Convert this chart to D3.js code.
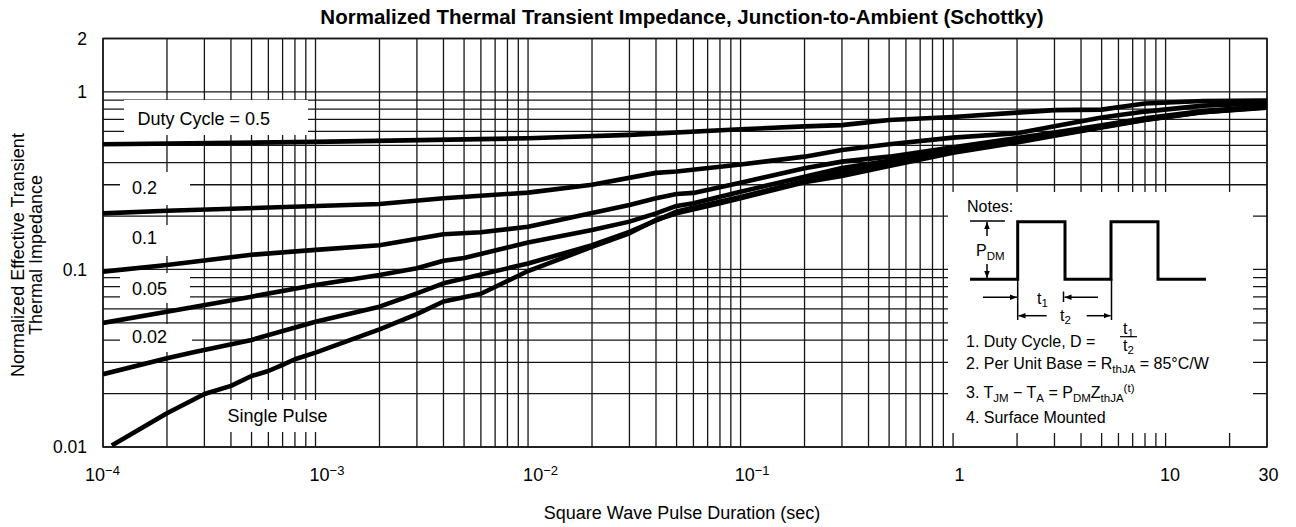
<!DOCTYPE html>
<html><head><meta charset="utf-8">
<script src="https://cdn.jsdelivr.net/npm/d3@7"></script>
<style>
html,body{margin:0;padding:0;background:#fff;}
svg{display:block;font-family:"Liberation Sans",Arial,Helvetica,sans-serif;}
</style></head><body>
<svg id="chart" width="1296" height="527"></svg>
<script>
// ---------------- DATA ----------------
const xTickValues = [1e-4, 1e-3, 1e-2, 1e-1, 1, 10, 30];
const xTickLabels = ["10^−4", "10^−3", "10^−2", "10^−1", "1", "10", "30"];
const yTickValues = [0.01, 0.1, 1, 2];
const yTickLabels = ["0.01", "0.1", "1", "2"];
const curveLabels = ["Duty Cycle = 0.5", "0.2", "0.1", "0.05", "0.02", "Single Pulse"];

// pulse duration (s) and normalized Zth for each duty cycle
const tD05 = [1e-4, 1e-3, 1e-2, 3e-2, 0.1, 0.2, 0.3, 0.5, 1, 2, 3, 5, 8, 15, 30];
const zD05 = [0.507, 0.523, 0.548, 0.573, 0.616, 0.64, 0.65, 0.695, 0.723, 0.765, 0.79, 0.795, 0.86, 0.89, 0.895];

const tD02 = [1e-4, 2e-4, 2e-3, 4e-3, 1e-2, 2e-2, 4e-2, 5e-2, 0.1, 0.2, 0.3, 0.5, 1, 2, 3, 5, 8, 15, 30];
const zD02 = [0.207, 0.214, 0.234, 0.252, 0.271, 0.3, 0.35, 0.356, 0.39, 0.432, 0.471, 0.508, 0.553, 0.585, 0.64, 0.717, 0.775, 0.837, 0.864];

const tD01 = [1e-4, 2e-4, 5e-4, 1e-3, 2e-3, 4e-3, 6e-3, 1e-2, 2e-2, 3e-2, 4e-2, 5e-2, 6e-2, 0.1, 0.2, 0.3, 0.5, 1, 2, 3, 5, 8, 15, 30];
const zD01 = [0.0972, 0.106, 0.121, 0.129, 0.137, 0.158, 0.162, 0.174, 0.208, 0.231, 0.252, 0.266, 0.27, 0.308, 0.372, 0.405, 0.432, 0.488, 0.55, 0.59, 0.65, 0.71, 0.78, 0.83];

const tD005 = [1e-4, 2e-4, 5e-4, 1e-3, 2e-3, 3e-3, 4e-3, 5e-3, 1e-2, 2e-2, 3e-2, 4e-2, 5e-2, 6e-2, 0.1, 0.2, 0.3, 0.5, 1, 2, 3, 5, 8, 15, 30];
const zD005 = [0.05, 0.0578, 0.0703, 0.0818, 0.093, 0.1016, 0.112, 0.116, 0.142, 0.167, 0.186, 0.207, 0.228, 0.236, 0.274, 0.333, 0.373, 0.409, 0.47, 0.535, 0.575, 0.64, 0.70, 0.775, 0.825];

const tD002 = [1e-4, 2e-4, 2.6e-4, 5e-4, 1e-3, 2e-3, 3e-3, 4e-3, 1e-2, 2e-2, 3e-2, 5e-2, 0.1, 0.2, 0.3, 0.5, 1, 2, 3, 5, 8, 15, 30];
const zD002 = [0.0257, 0.0316, 0.034, 0.0401, 0.0508, 0.0617, 0.0734, 0.0836, 0.108, 0.137, 0.163, 0.212, 0.256, 0.315, 0.354, 0.395, 0.463, 0.527, 0.57, 0.635, 0.697, 0.77, 0.82];

const tSingle = [1.1e-4, 2e-4, 3e-4, 4e-4, 5e-4, 6e-4, 7e-4, 8e-4, 1e-3, 2e-3, 3e-3, 4e-3, 6e-3, 1e-2, 2e-2, 3e-2, 4e-2, 5e-2, 8e-2, 0.1, 0.2, 0.3, 0.5, 1, 2, 3, 5, 8, 15, 30];
const zSingle = [0.0102, 0.0155, 0.0199, 0.0221, 0.0251, 0.0268, 0.029, 0.0312, 0.034, 0.046, 0.056, 0.066, 0.073, 0.098, 0.134, 0.16, 0.19, 0.207, 0.236, 0.252, 0.31, 0.336, 0.383, 0.455, 0.52, 0.567, 0.63, 0.695, 0.768, 0.816];

const seriesT = [tD05, tD02, tD01, tD005, tD002, tSingle];
const seriesZ = [zD05, zD02, zD01, zD005, zD002, zSingle];

// ---------------- LAYOUT ----------------
const svg = d3.select("#chart");
const M = {left: 103, right: 1267, top: 38.5, bottom: 447};
const x = d3.scaleLog().domain([1e-4, 30]).range([M.left, M.right]);
const y = d3.scaleLog().domain([0.01, 2]).range([M.bottom, M.top]);
const GRID = "#151515";

svg.append("rect").attr("width", 1296).attr("height", 527).attr("fill", "#fff");

const defs = svg.append("defs");
defs.append("clipPath").attr("id", "plotclip").append("rect")
  .attr("x", M.left).attr("y", M.top).attr("width", M.right - M.left).attr("height", M.bottom - M.top);
defs.append("marker").attr("id", "ah").attr("viewBox", "0 0 10 10")
  .attr("refX", 10).attr("refY", 5).attr("markerWidth", 7).attr("markerHeight", 7)
  .attr("markerUnits", "userSpaceOnUse").attr("orient", "auto")
  .append("path").attr("d", "M0,1 L10,5 L0,9 Z").attr("fill", "#000");

// Grid
const grid = svg.append("g");
grid.selectAll("line.v").data(x.ticks()).join("line")
  .attr("x1", d => x(d)).attr("x2", d => x(d)).attr("y1", M.top).attr("y2", M.bottom)
  .attr("stroke", GRID).attr("stroke-width", 1.3);
grid.selectAll("line.h").data(y.ticks()).join("line")
  .attr("x1", M.left).attr("x2", M.right).attr("y1", d => y(d)).attr("y2", d => y(d))
  .attr("stroke", GRID).attr("stroke-width", 1.3);
grid.append("rect").attr("x", M.left).attr("y", M.top)
  .attr("width", M.right - M.left).attr("height", M.bottom - M.top)
  .attr("fill", "none").attr("stroke", GRID).attr("stroke-width", 1.5);

// label boxes (white masks) + label text positions (px)
const labelBoxes = [
  {x0: 124, x1: 308, y0: 100, y1: 135, tx: 137.5, ty: 125},
  {x0: 120, x1: 190, y0: 172, y1: 205, tx: 132, ty: 193.5},
  {x0: 120, x1: 190, y0: 225, y1: 256, tx: 132, ty: 244},
  {x0: 120, x1: 190, y0: 273, y1: 303, tx: 132, ty: 295},
  {x0: 120, x1: 192, y0: 324, y1: 352, tx: 132, ty: 342.5},
  {x0: 212, x1: 334, y0: 400, y1: 432, tx: 227.5, ty: 421.5}
];
svg.append("g").selectAll("rect").data(labelBoxes).join("rect")
  .attr("x", d => d.x0).attr("y", d => d.y0).attr("width", d => d.x1 - d.x0).attr("height", d => d.y1 - d.y0)
  .attr("fill", "#fff");

// Notes box mask
const NB = {x: 948, y: 192, w: 305, h: 241};
svg.append("rect").attr("x", NB.x).attr("y", NB.y).attr("width", NB.w).attr("height", NB.h).attr("fill", "#fff");

// Curves
const line = d3.line().x(d => x(d[0])).y(d => y(d[1]));
const curves = svg.append("g").attr("clip-path", "url(#plotclip)");
seriesT.forEach((ts, i) => {
  const pts = ts.map((t, k) => [t, seriesZ[i][k]]);
  curves.append("path").datum(pts).attr("d", line)
    .attr("fill", "none").attr("stroke", "#000").attr("stroke-width", 4.6)
    .attr("stroke-linejoin", "round").attr("stroke-linecap", "butt");
});

// Curve labels
svg.append("g").selectAll("text").data(labelBoxes).join("text")
  .attr("x", d => d.tx).attr("y", d => d.ty)
  .attr("font-size", 18).attr("fill", "#000")
  .text((d, i) => curveLabels[i]);

// Y axis
const yAx = svg.append("g").attr("transform", `translate(${M.left},0)`)
  .call(d3.axisLeft(y).tickValues(yTickValues).tickFormat((d, i) => yTickLabels[i]).tickSize(0).tickPadding(16));
yAx.select(".domain").remove();
yAx.selectAll("text").attr("font-size", 17.5).attr("font-family", "Liberation Sans, Arial, sans-serif").attr("fill", "#000");

// X axis
const xLabelDx = [-1, 11, 12, 11, 6, 4, 1];
const xAx = svg.append("g").attr("transform", `translate(0,${M.bottom})`)
  .call(d3.axisBottom(x).tickValues(xTickValues).tickFormat((d, i) => xTickLabels[i]).tickSize(0).tickPadding(21));
xAx.select(".domain").remove();
xAx.selectAll(".tick text").each(function (d, i) {
  const el = d3.select(this);
  const lab = xTickLabels[i];
  el.text(null).attr("font-size", 18).attr("font-family", "Liberation Sans, Arial, sans-serif")
    .attr("fill", "#000").attr("dx", xLabelDx[i]);
  if (lab.includes("^")) {
    const [b, e] = lab.split("^");
    el.append("tspan").text(b);
    el.append("tspan").attr("dy", "-0.45em").attr("font-size", 13).text(e);
  } else el.text(lab);
});

// Title & axis titles
svg.append("text").attr("x", 682).attr("y", 24).attr("text-anchor", "middle")
  .attr("font-size", 20.5).attr("font-weight", "bold")
  .text("Normalized Thermal Transient Impedance, Junction-to-Ambient (Schottky)");
svg.append("text").attr("x", 682).attr("y", 519).attr("text-anchor", "middle")
  .attr("font-size", 18).text("Square Wave Pulse Duration (sec)");
const yl = svg.append("text").attr("transform", "translate(24,255) rotate(-90)").attr("text-anchor", "middle").attr("font-size", 18);
yl.append("tspan").attr("x", 0).attr("y", 0).text("Normalized Effective Transient");
yl.append("tspan").attr("x", 0).attr("y", 17.5).text("Thermal Impedance");

// ---------------- NOTES ----------------
const N = svg.append("g").attr("transform", `translate(${NB.x - 1},${NB.y})`);
const NF = 16, SF = 11.5;
N.append("text").attr("x", 20).attr("y", 19.5).attr("font-size", NF).text("Notes:");
// waveform
N.append("path").attr("d", "M23,87.3 H70.7 V29.7 H118 V87.3 H164 V29.7 H211 V87.3 H259")
  .attr("fill", "none").attr("stroke", "#000").attr("stroke-width", 3).attr("stroke-linejoin", "miter");
// P_DM indicator
N.append("line").attr("x1", 23).attr("x2", 58).attr("y1", 29).attr("y2", 29).attr("stroke", "#000").attr("stroke-width", 1.5);
N.append("line").attr("x1", 40).attr("x2", 40).attr("y1", 44).attr("y2", 30).attr("stroke", "#000").attr("stroke-width", 1.5).attr("marker-end", "url(#ah)");
N.append("line").attr("x1", 40).attr("x2", 40).attr("y1", 72).attr("y2", 86).attr("stroke", "#000").attr("stroke-width", 1.5).attr("marker-end", "url(#ah)");
const pdm = N.append("text").attr("x", 29).attr("y", 64).attr("font-size", NF);
pdm.append("tspan").text("P");
pdm.append("tspan").attr("dy", 4).attr("font-size", SF).text("DM");
// t1 arrows
N.append("line").attr("x1", 36).attr("x2", 70).attr("y1", 105.3).attr("y2", 105.3).attr("stroke", "#000").attr("stroke-width", 1.5).attr("marker-end", "url(#ah)");
N.append("line").attr("x1", 70.7).attr("x2", 70.7).attr("y1", 87).attr("y2", 128).attr("stroke", "#000").attr("stroke-width", 1.5);
N.append("line").attr("x1", 151).attr("x2", 117.5).attr("y1", 105.3).attr("y2", 105.3).attr("stroke", "#000").attr("stroke-width", 1.5).attr("marker-end", "url(#ah)");
N.append("line").attr("x1", 116.5).attr("x2", 116.5).attr("y1", 99.5).attr("y2", 110).attr("stroke", "#000").attr("stroke-width", 1.5);
const t1 = N.append("text").attr("x", 90).attr("y", 111.5).attr("font-size", NF);
t1.append("tspan").text("t");
t1.append("tspan").attr("dy", 3).attr("font-size", SF).text("1");
// t2 arrows
N.append("line").attr("x1", 99.7).attr("x2", 71.5).attr("y1", 123.7).attr("y2", 123.7).attr("stroke", "#000").attr("stroke-width", 1.5).attr("marker-end", "url(#ah)");
N.append("line").attr("x1", 139.7).attr("x2", 163.5).attr("y1", 123.7).attr("y2", 123.7).attr("stroke", "#000").attr("stroke-width", 1.5).attr("marker-end", "url(#ah)");
N.append("line").attr("x1", 164.5).attr("x2", 164.5).attr("y1", 87).attr("y2", 128).attr("stroke", "#000").attr("stroke-width", 1.5);
const t2 = N.append("text").attr("x", 113).attr("y", 128.5).attr("font-size", NF);
t2.append("tspan").text("t");
t2.append("tspan").attr("dy", 3).attr("font-size", SF).text("2");
// note 1 with fraction
N.append("text").attr("x", 19).attr("y", 154.7).attr("font-size", NF).text("1. Duty Cycle, D =");
const f1 = N.append("text").attr("x", 176).attr("y", 142).attr("font-size", NF);
f1.append("tspan").text("t");
f1.append("tspan").attr("dy", 3).attr("font-size", SF).text("1");
N.append("line").attr("x1", 173).attr("x2", 190).attr("y1", 144.7).attr("y2", 144.7).attr("stroke", "#000").attr("stroke-width", 1.2);
const f2 = N.append("text").attr("x", 176).attr("y", 158.5).attr("font-size", NF);
f2.append("tspan").text("t");
f2.append("tspan").attr("dy", 3).attr("font-size", SF).text("2");
// note 2
const n2 = N.append("text").attr("x", 19).attr("y", 177.3).attr("font-size", NF);
n2.append("tspan").text("2. Per Unit Base = R");
n2.append("tspan").attr("dy", 4).attr("font-size", SF).text("thJA");
n2.append("tspan").attr("dy", -4).text(" = 85°C/W");
// note 3
const n3 = N.append("text").attr("x", 19).attr("y", 206.3).attr("font-size", NF);
n3.append("tspan").text("3. T");
n3.append("tspan").attr("dy", 4).attr("font-size", SF).text("JM");
n3.append("tspan").attr("dy", -4).text(" − T");
n3.append("tspan").attr("dy", 4).attr("font-size", SF).text("A");
n3.append("tspan").attr("dy", -4).text(" = P");
n3.append("tspan").attr("dy", 4).attr("font-size", SF).text("DM");
n3.append("tspan").attr("dy", -4).text("Z");
n3.append("tspan").attr("dy", 4).attr("font-size", SF).text("thJA");
n3.append("tspan").attr("dy", -10).attr("font-size", SF).text("(t)");
// note 4
N.append("text").attr("x", 19).attr("y", 231).attr("font-size", NF).text("4. Surface Mounted");
</script>
</body></html>
